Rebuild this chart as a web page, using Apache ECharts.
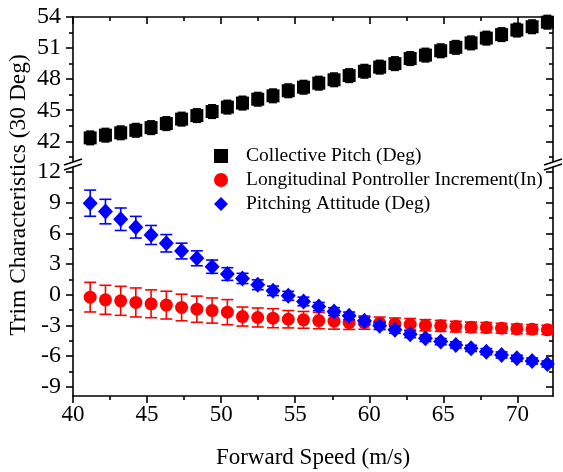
<!DOCTYPE html>
<html>
<head>
<meta charset="utf-8">
<script src="https://cdn.jsdelivr.net/npm/echarts@6/dist/echarts.min.js"></script>
<style>html,body{margin:0;padding:0;background:#fff;}#chart{width:563px;height:472px;}</style>
</head>
<body>
<div id="chart"></div>
<script>
// Forward speed (m/s)
const speed = [41.16, 42.19, 43.22, 44.24, 45.27, 46.30, 47.33, 48.36, 49.39, 50.42, 51.44, 52.47, 53.50, 54.53, 55.56, 56.59, 57.62, 58.64, 59.67, 60.70, 61.73, 62.76, 63.79, 64.82, 65.84, 66.87, 67.90, 68.93, 69.96, 70.99, 72.02];
const collective = [42.33, 42.59, 42.82, 43.06, 43.32, 43.71, 44.14, 44.48, 44.87, 45.30, 45.69, 46.06, 46.39, 46.88, 47.22, 47.61, 47.94, 48.34, 48.76, 49.16, 49.50, 49.99, 50.32, 50.74, 51.07, 51.50, 51.96, 52.30, 52.74, 53.06, 53.50];
const collectiveErr = [0.65, 0.65, 0.65, 0.65, 0.65, 0.65, 0.65, 0.65, 0.65, 0.65, 0.65, 0.65, 0.65, 0.65, 0.65, 0.65, 0.65, 0.65, 0.65, 0.65, 0.65, 0.65, 0.65, 0.65, 0.65, 0.65, 0.65, 0.65, 0.65, 0.65, 0.65];
const longitudinal = [-0.23, -0.49, -0.59, -0.75, -0.88, -1.01, -1.24, -1.41, -1.54, -1.70, -2.13, -2.22, -2.29, -2.39, -2.45, -2.52, -2.58, -2.72, -2.72, -2.78, -2.85, -2.88, -2.98, -3.04, -3.11, -3.17, -3.21, -3.27, -3.34, -3.37, -3.43];
const longitudinalErr = [1.45, 1.42, 1.42, 1.42, 1.36, 1.36, 1.30, 1.28, 1.23, 1.23, 0.93, 0.93, 0.93, 0.85, 0.82, 0.80, 0.78, 0.67, 0.65, 0.60, 0.58, 0.56, 0.55, 0.54, 0.52, 0.50, 0.50, 0.48, 0.47, 0.46, 0.45];
const pitching = [8.96, 8.14, 7.39, 6.61, 5.85, 5.04, 4.28, 3.57, 2.75, 2.03, 1.60, 0.98, 0.39, -0.10, -0.65, -1.15, -1.64, -2.06, -2.55, -3.04, -3.43, -3.86, -4.25, -4.58, -4.91, -5.24, -5.56, -5.89, -6.21, -6.48, -6.77];
const pitchingErr = [1.28, 1.20, 1.10, 1.06, 0.93, 0.85, 0.77, 0.73, 0.65, 0.62, 0.50, 0.48, 0.46, 0.44, 0.42, 0.40, 0.38, 0.37, 0.36, 0.35, 0.34, 0.33, 0.32, 0.31, 0.30, 0.30, 0.30, 0.30, 0.30, 0.30, 0.30];

const seriesNames = ['Collective Pitch (Deg)', 'Longitudinal Pontroller Increment(In)', 'Pitching Attitude (Deg)'];
const xMajorTicks = [40, 45, 50, 55, 60, 65, 70];
const xMinorTicks = [42.5, 47.5, 52.5, 57.5, 62.5, 67.5];
const yTopMajorTicks = [42, 45, 48, 51, 54];
const yTopMinorTicks = [40.5, 43.5, 46.5, 49.5, 52.5];
const yBottomMajorTicks = [-9, -6, -3, 0, 3, 6, 9, 12];
const yBottomMinorTicks = [-7.5, -4.5, -1.5, 1.5, 4.5, 7.5, 10.5];

const FONT = '"Liberation Serif", "Times New Roman", serif';
const LW = 1.6;
const X_MIN = 40, X_MAX = 72.4;
const TOP_MIN = 40, TOP_MAX = 54;
const BOT_MIN = -9.9, BOT_MAX = 12.5;

const chart = echarts.init(document.getElementById('chart'), null, {renderer: 'canvas'});

function errData(vals, errs) {
  return speed.map((x, i) => [x, vals[i] - errs[i], vals[i] + errs[i]]);
}
function errRender(capHalf, color) {
  return function (params, api) {
    const x = api.value(0), lo = api.value(1), hi = api.value(2);
    const t = api.coord([x, hi]), b = api.coord([x, lo]);
    const style = {stroke: color, lineWidth: LW, fill: null};
    return {type: 'group', children: [
      {type: 'line', shape: {x1: t[0], y1: t[1], x2: b[0], y2: b[1]}, style: style},
      {type: 'line', shape: {x1: t[0] - capHalf, y1: t[1], x2: t[0] + capHalf, y2: t[1]}, style: style},
      {type: 'line', shape: {x1: b[0] - capHalf, y1: b[1], x2: b[0] + capHalf, y2: b[1]}, style: style}
    ]};
  };
}

function xAxisDef(grid, pos, minor, withLabels) {
  const a = {
    type: 'value', gridIndex: grid, position: pos, min: X_MIN, max: X_MAX,
    axisLine: {show: !minor, onZero: false, lineStyle: {color: '#000', width: LW}},
    axisTick: {show: true, inside: pos === 'top', length: minor ? 4 : 7,
      customValues: minor ? xMinorTicks : xMajorTicks, lineStyle: {color: '#000', width: LW}},
    axisLabel: {show: false},
    splitLine: {show: false}
  };
  if (withLabels) {
    a.axisLabel = {show: true, customValues: xMajorTicks, color: '#000', fontFamily: FONT, fontSize: 23, margin: 7};
    a.name = 'Forward Speed (m/s)';
    a.nameLocation = 'middle';
    a.nameGap = 50;
    a.nameTextStyle = {color: '#000', fontFamily: FONT, fontSize: 23};
  }
  return a;
}
function yAxisDef(grid, pos, minor, min, max, majors, minors) {
  const a = {
    type: 'value', gridIndex: grid, position: pos, min: min, max: max,
    axisLine: {show: !minor, onZero: false, lineStyle: {color: '#000', width: LW}},
    axisTick: {show: true, inside: pos === 'right', length: minor ? 4 : 7,
      customValues: minor ? minors : majors, lineStyle: {color: '#000', width: LW}},
    axisLabel: {show: false},
    splitLine: {show: false}
  };
  if (pos === 'left' && !minor) {
    a.axisLabel = {show: true, customValues: majors, color: '#000', fontFamily: FONT, fontSize: 24, margin: 12};
  }
  return a;
}

const option = {
  backgroundColor: '#fff',
  animation: false,
  grid: [
    {left: 73, right: 10, top: 17, height: 145},
    {left: 73, right: 10, top: 167, bottom: 76}
  ],
  xAxis: [
    xAxisDef(0, 'top', false, false),
    xAxisDef(0, 'top', true, false),
    xAxisDef(1, 'bottom', false, true),
    xAxisDef(1, 'bottom', true, false)
  ],
  yAxis: [
    yAxisDef(0, 'left', false, TOP_MIN, TOP_MAX, yTopMajorTicks, yTopMinorTicks),
    yAxisDef(0, 'left', true, TOP_MIN, TOP_MAX, yTopMajorTicks, yTopMinorTicks),
    yAxisDef(0, 'right', false, TOP_MIN, TOP_MAX, yTopMajorTicks, yTopMinorTicks),
    yAxisDef(0, 'right', true, TOP_MIN, TOP_MAX, yTopMajorTicks, yTopMinorTicks),
    yAxisDef(1, 'left', false, BOT_MIN, BOT_MAX, yBottomMajorTicks, yBottomMinorTicks),
    yAxisDef(1, 'left', true, BOT_MIN, BOT_MAX, yBottomMajorTicks, yBottomMinorTicks),
    yAxisDef(1, 'right', false, BOT_MIN, BOT_MAX, yBottomMajorTicks, yBottomMinorTicks),
    yAxisDef(1, 'right', true, BOT_MIN, BOT_MAX, yBottomMajorTicks, yBottomMinorTicks)
  ],
  legend: {
    orient: 'vertical', left: 209, top: 141, itemWidth: 14, itemHeight: 14, itemGap: 4,
    selectedMode: false,
    textStyle: {color: '#000', fontFamily: FONT, fontSize: 19.5, padding: [0, 0, 0, 13]},
    data: [
      {name: seriesNames[0], icon: 'rect'},
      {name: seriesNames[1], icon: 'circle'},
      {name: seriesNames[2], icon: 'diamond'}
    ]
  },
  graphic: [
    {type: 'text', x: 19, y: 195, rotation: Math.PI / 2,
      style: {text: 'Trim Characteristics (30 Deg)', fill: '#000', font: '23.5px ' + FONT, textAlign: 'center', textVerticalAlign: 'middle'}},
    {type: 'rect', shape: {x: 66, y: 162.5, width: 14, height: 4}, style: {fill: '#fff'}, z: 100},
    {type: 'rect', shape: {x: 546, y: 162.5, width: 14, height: 4}, style: {fill: '#fff'}, z: 100},
    {type: 'line', shape: {x1: 64, y1: 165, x2: 82, y2: 159}, style: {stroke: '#000', lineWidth: LW}, z: 101},
    {type: 'line', shape: {x1: 64, y1: 170, x2: 82, y2: 164}, style: {stroke: '#000', lineWidth: LW}, z: 101},
    {type: 'line', shape: {x1: 544, y1: 165, x2: 562, y2: 159}, style: {stroke: '#000', lineWidth: LW}, z: 101},
    {type: 'line', shape: {x1: 544, y1: 170, x2: 562, y2: 164}, style: {stroke: '#000', lineWidth: LW}, z: 101}
  ],
  series: [
    {type: 'custom', name: 'ceb', xAxisIndex: 0, yAxisIndex: 0, data: errData(collective, collectiveErr),
      encode: {x: 0, y: [1, 2]}, renderItem: errRender(4, '#000'), z: 2, silent: true},
    {type: 'scatter', name: seriesNames[0], xAxisIndex: 0, yAxisIndex: 0,
      data: speed.map((x, i) => [x, collective[i]]), symbol: 'rect', symbolSize: 13,
      itemStyle: {color: '#000', opacity: 1}, z: 3},
    {type: 'custom', name: 'leb', xAxisIndex: 2, yAxisIndex: 4, data: errData(longitudinal, longitudinalErr),
      encode: {x: 0, y: [1, 2]}, renderItem: errRender(6, '#ff0000'), z: 2, silent: true},
    {type: 'scatter', name: seriesNames[1], xAxisIndex: 2, yAxisIndex: 4,
      data: speed.map((x, i) => [x, longitudinal[i]]), symbol: 'circle', symbolSize: 13,
      itemStyle: {color: '#ff0000', opacity: 1}, z: 3},
    {type: 'custom', name: 'peb', xAxisIndex: 2, yAxisIndex: 4, data: errData(pitching, pitchingErr),
      encode: {x: 0, y: [1, 2]}, renderItem: errRender(6, '#0000ff'), z: 4, silent: true},
    {type: 'scatter', name: seriesNames[2], xAxisIndex: 2, yAxisIndex: 4,
      data: speed.map((x, i) => [x, pitching[i]]), symbol: 'diamond', symbolSize: [15, 16],
      itemStyle: {color: '#0000ff', opacity: 1}, z: 5}
  ]
};
chart.setOption(option);
</script>
</body>
</html>
